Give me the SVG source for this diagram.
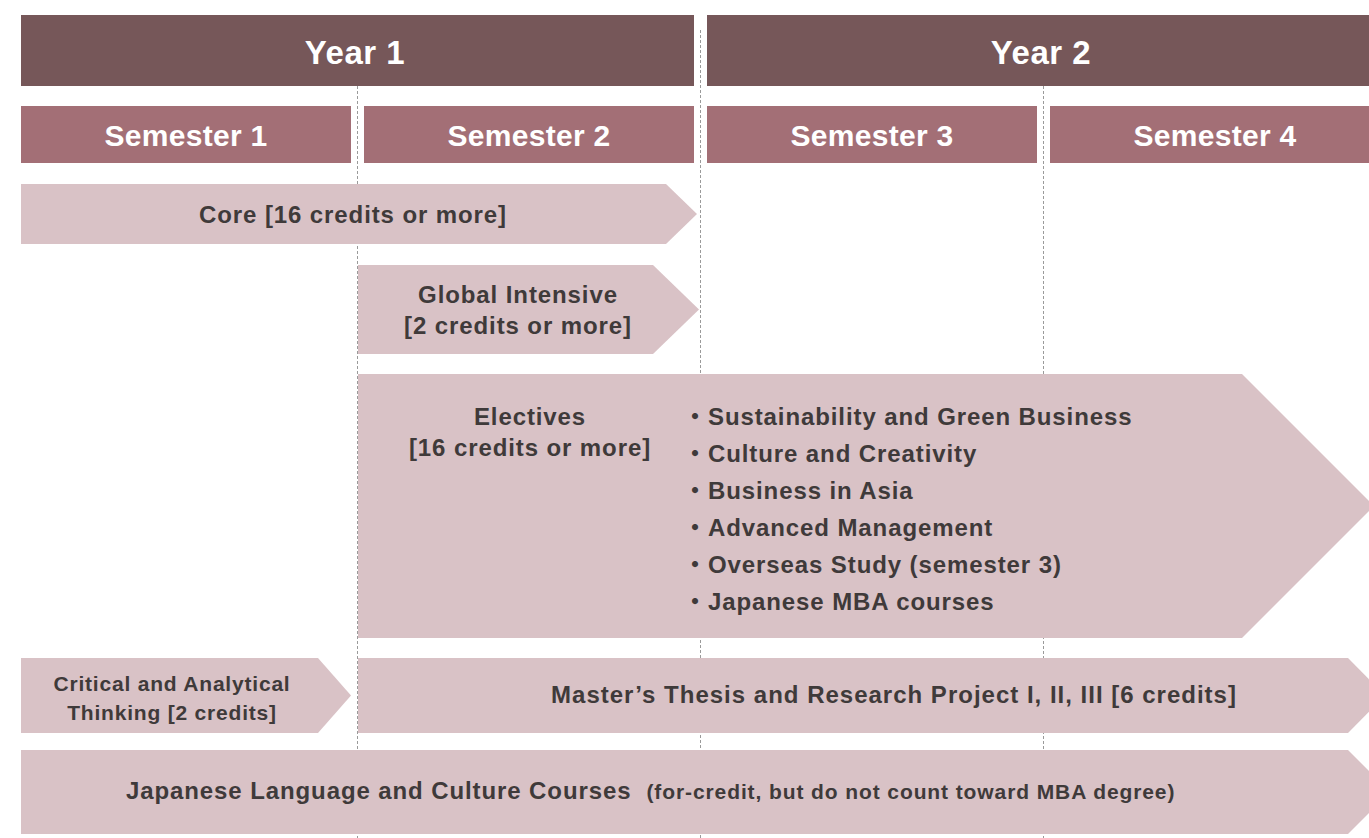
<svg xmlns="http://www.w3.org/2000/svg" width="1369" height="838" viewBox="0 0 1369 838">
<style>
.year{fill:#765759}
.sem{fill:#a36f76}
.arrow{fill:#d9c2c6}
.wt{fill:#ffffff;font-family:"Liberation Sans",Arial,sans-serif;font-weight:bold;text-anchor:middle}
.yt{font-size:33px;letter-spacing:0.5px}
.st{font-size:30px;letter-spacing:0.3px}
.dt{fill:#3f3a3a;font-family:"Liberation Sans",Arial,"Noto Sans CJK JP",sans-serif;font-weight:bold;font-size:24px;letter-spacing:0.9px}
.c{text-anchor:middle}
.dt.sm{font-size:21px;letter-spacing:0.8px}
.grid{stroke:#9a9a9a;stroke-width:1;stroke-dasharray:3 2;fill:none}
</style>
<rect width="1369" height="838" fill="#ffffff"/>
<g id="gridlines">
<line class="grid" x1="357.5" y1="86" x2="357.5" y2="838"/>
<line class="grid" x1="700.5" y1="30" x2="700.5" y2="838"/>
<line class="grid" x1="1043.5" y1="86" x2="1043.5" y2="838"/>
</g>
<g id="year1"><rect class="year" x="21" y="15" width="673" height="71"/><text class="wt yt" x="355" y="64">Year 1</text></g>
<g id="year2"><rect class="year" x="707" y="15" width="662" height="71"/><text class="wt yt" x="1041" y="64">Year 2</text></g>
<g id="sem1"><rect class="sem" x="21" y="106" width="330" height="57"/><text class="wt st" x="186" y="146">Semester 1</text></g>
<g id="sem2"><rect class="sem" x="364" y="106" width="330" height="57"/><text class="wt st" x="529" y="146">Semester 2</text></g>
<g id="sem3"><rect class="sem" x="707" y="106" width="330" height="57"/><text class="wt st" x="872" y="146">Semester 3</text></g>
<g id="sem4"><rect class="sem" x="1050" y="106" width="319" height="57"/><text class="wt st" x="1215" y="146">Semester 4</text></g>
<g id="core"><polygon class="arrow" points="21,184 666,184 697,214 666,244 21,244"/><text class="dt c" x="353" y="223">Core [16 credits or more]</text></g>
<g id="global"><polygon class="arrow" points="358,265 653,265 699,309.5 653,354 358,354"/><text class="dt c" x="518" y="303">Global Intensive</text><text class="dt c" x="518" y="334">[2 credits or more]</text></g>
<g id="electives"><polygon class="arrow" points="358,374 1242,374 1374,506 1242,638 358,638"/>
<text class="dt c" x="530" y="425">Electives</text><text class="dt c" x="530" y="456">[16 credits or more]</text>
<text class="dt"><tspan x="683" y="425">・</tspan><tspan x="708" y="425">Sustainability and Green Business</tspan></text>
<text class="dt"><tspan x="683" y="462">・</tspan><tspan x="708" y="462">Culture and Creativity</tspan></text>
<text class="dt"><tspan x="683" y="499">・</tspan><tspan x="708" y="499">Business in Asia</tspan></text>
<text class="dt"><tspan x="683" y="536">・</tspan><tspan x="708" y="536">Advanced Management</tspan></text>
<text class="dt"><tspan x="683" y="573">・</tspan><tspan x="708" y="573">Overseas Study (semester 3)</tspan></text>
<text class="dt"><tspan x="683" y="610">・</tspan><tspan x="708" y="610">Japanese MBA courses</tspan></text>
</g>
<g id="critical"><polygon class="arrow" points="21,658 318,658 351,695.5 318,733 21,733"/><text class="dt c sm" x="172" y="691">Critical and Analytical</text><text class="dt c sm" x="172" y="720">Thinking [2 credits]</text></g>
<g id="thesis"><polygon class="arrow" points="358,658 1348,658 1385,695.5 1348,733 358,733"/><text class="dt c" x="894" y="703" style="letter-spacing:1px">Master’s Thesis and Research Project I, II, III [6 credits]</text></g>
<g id="japanese"><polygon class="arrow" points="21,750 1348,750 1390,792 1348,834 21,834"/><text class="dt" x="126" y="799">Japanese Language and Culture Courses<tspan font-size="21" dx="15">(for-credit, but do not count toward MBA degree)</tspan></text></g>
</svg>
